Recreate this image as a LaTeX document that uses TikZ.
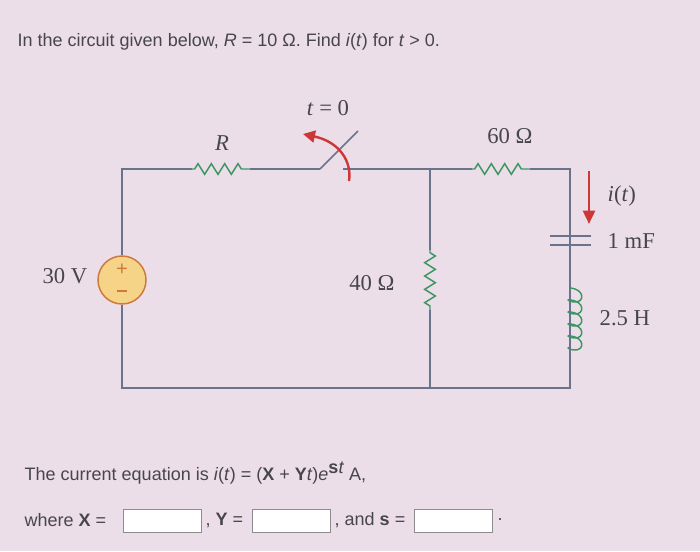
\documentclass[tikz,border=0pt]{standalone}
\usepackage{fontspec}
\setmainfont{Liberation Serif}
\setsansfont{Liberation Sans}
\usetikzlibrary{decorations.pathmorphing,arrows.meta}
\definecolor{bgpink}{RGB}{236,222,232}
\definecolor{wirec}{RGB}{105,115,140}
\definecolor{resc}{RGB}{60,150,100}
\definecolor{arrc}{RGB}{205,55,55}
\definecolor{srcfill}{RGB}{246,212,135}
\definecolor{srcedge}{RGB}{205,120,60}
\definecolor{txtc}{RGB}{70,70,75}
\tikzset{
  wire/.style={draw=wirec,line width=1.1pt},
  resz/.style={draw=resc,line width=1.1pt,decorate,
    decoration={zigzag,amplitude=4,segment length=10,pre length=2,post length=2}},
  coilc/.style={draw=resc,line width=1.1pt},
  lbl/.style={text=txtc,font=\fontsize{17}{20}\selectfont},
  qtxt/.style={text=txtc,font=\sffamily\fontsize{13.5}{16}\selectfont,anchor=west},
  ansbox/.style={draw=black!45,fill=white,line width=0.7pt}
}
\begin{document}
\begin{tikzpicture}[x=0.75pt,y=-0.75pt]
  \fill[bgpink] (0,0) rectangle (700,551);
  \useasboundingbox (0,0) rectangle (700,551);

% question text
  \node[qtxt] (title) at (13,42) {In the circuit given below, \textit{R} = 10 Ω. Find \textit{i}(\textit{t}) for \textit{t} > 0.};

% corner points
  \coordinate (tl) at (122,169);
  \coordinate (bl) at (122,388);
  \coordinate (sw1) at (320,169);
  \coordinate (sw2) at (343,169);
  \coordinate (tm) at (430,169);
  \coordinate (bm) at (430,388);
  \coordinate (tr) at (570,169);
  \coordinate (br) at (570,388);

% left branch with source
  \node[circle,draw=srcedge,fill=srcfill,line width=1.1pt,minimum size=36] (src) at (122,280) {};
  \node[text=srcedge,font=\sffamily\fontsize{15}{15}\selectfont] at (122,270) {+};
  \draw[srcedge,line width=1pt] (117,291) -- (127,291);
  \draw[wire] (src.north) -- (tl) -- (192,169);
  \draw[wire] (src.south) -- (bl) -- (br) -- (tr);
  \draw[resz] (192,169) -- (250,169);
  \draw[wire] (250,169) -- (sw1);
  \node[lbl] (rlab) at (222,143) {\textit{R}};
  \node[lbl,anchor=east] (vlab) at (92,276) {30 V};

% switch
  \draw[wire] (sw1) -- (358,131);
  \draw[wire] (sw2) -- (tm) -- (472,169);
  \draw[arrc,line width=1.8pt,-{Triangle[length=9,width=9]}] (349,181) .. controls (352,162) and (340,142) .. (303,134);
  \node[lbl] (swlab) at (328,108) {\textit{t} = 0};

% middle branch
  \draw[wire] (tm) -- (430,250);
  \draw[resz] (430,250) -- (430,310);
  \draw[wire] (430,310) -- (bm);
  \node[lbl] (r2lab) at (372,283) {40 Ω};

% right branch
  \draw[resz] (472,169) -- (530,169);
  \draw[wire] (530,169) -- (tr) -- (570,236);
  \node[lbl] (r3lab) at (510,136) {60 Ω};
  \draw[wirec,line width=1.1pt] (550,236) -- (591,236);
  \draw[wirec,line width=1.1pt] (550,245) -- (591,245);
  \draw[wire] (570,245) -- (570,288);
  \foreach \k in {0,...,4} {
    \pgfmathsetmacro\yy{288+12*\k}
    \draw[coilc] (570,\yy) .. controls (585,\yy+1) and (585,\yy+15) .. (574,\yy+14)
      .. controls (567,\yy+13) and (567,\yy+11) .. (570,\yy+12);
  }
  \draw[wire] (570,348) -- (br);
  \coordinate (ia) at (589,171);
  \coordinate (ib) at (589,224);
  \draw[arrc,line width=1.8pt,-{Triangle[length=10,width=9]}] (ia) -- (ib);
  \node[lbl,anchor=west] (ilab) at (603,196) {\textit{i}(\textit{t})};
  \node[lbl,anchor=west] (clab) at (603,241) {1 mF};
  \node[lbl,anchor=west] (llab) at (595,318) {2.5 H};

% answer text
  \node[qtxt] (eq) at (20,473) {The current equation is \textit{i}(\textit{t}) = (\textbf{X} + \textbf{Y}\textit{t})\textit{e}$^{\textbf{\textsf{s}}\textit{t}}$ A,};
  \node[qtxt] (wh) at (20,520) {where \textbf{X} =};
  \draw[ansbox] (123,509) rectangle (201,532);
  \node[qtxt] (yy) at (201,520) {, \textbf{Y} =};
  \draw[ansbox] (252,509) rectangle (330,532);
  \node[qtxt] (ss) at (330,520) {, and \textbf{s} =};
  \draw[ansbox] (414,509) rectangle (492,532);
  \node[qtxt] (dot) at (493,520) {.};
\end{tikzpicture}
\end{document}
